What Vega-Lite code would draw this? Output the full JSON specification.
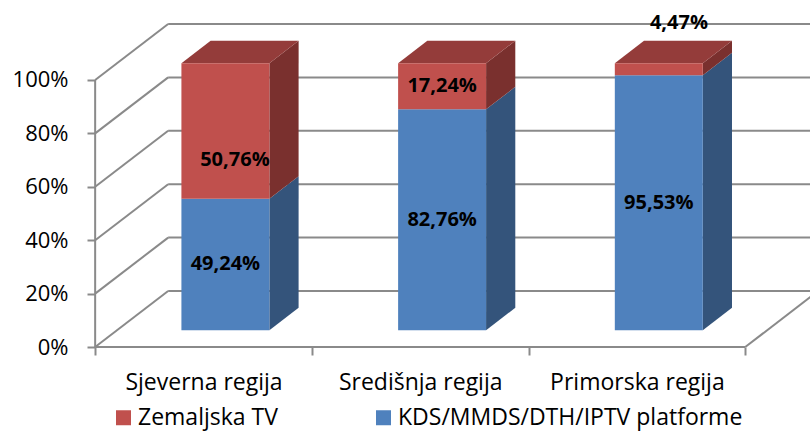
{
  "$schema": "https://vega.github.io/schema/vega-lite/v6.json",
  "width": 810,
  "height": 434,
  "padding": 0,
  "autosize": {"type": "none"},
  "config": {"view": {"stroke": null}, "axis": {"grid": false}, "font": "Open Sans"},
  "datasets": {
    "bars": [
      {"region": "Sjeverna regija", "series": "KDS/MMDS/DTH/IPTV platforme", "value": 49.24},
      {"region": "Sjeverna regija", "series": "Zemaljska TV", "value": 50.76},
      {"region": "Središnja regija", "series": "KDS/MMDS/DTH/IPTV platforme", "value": 82.76},
      {"region": "Središnja regija", "series": "Zemaljska TV", "value": 17.24},
      {"region": "Primorska regija", "series": "KDS/MMDS/DTH/IPTV platforme", "value": 95.53},
      {"region": "Primorska regija", "series": "Zemaljska TV", "value": 4.47}
    ],
    "ticks": [{"t": 0}, {"t": 0.2}, {"t": 0.4}, {"t": 0.6}, {"t": 0.8}, {"t": 1}]
  },
  "encoding": {
    "x": {
      "field": "X", "type": "quantitative", "stack": null,
      "scale": {"domain": [-0.9391, 2.7988], "nice": false, "zero": false},
      "axis": {
        "title": null, "orient": "bottom", "offset": -87, "domain": false,
        "values": [-0.5, 0, 0.5, 1, 1.5, 2, 2.5],
        "labelExpr": "datum.value === 0 ? 'Sjeverna regija' : datum.value === 1 ? 'Središnja regija' : datum.value === 2 ? 'Primorska regija' : ''",
        "tickSize": 8, "tickWidth": 2, "tickColor": "#8a8a8a",
        "tickOpacity": {"condition": {"test": "datum.value % 1 === 0", "value": 0}, "value": 1},
        "labelFontSize": 23, "labelColor": "#000", "labelPadding": 16, "labelFlush": false, "labelOverlap": false
      }
    },
    "y": {
      "field": "Y", "type": "quantitative", "stack": null,
      "scale": {"domain": [-0.3258, 1.2996], "nice": false, "zero": false},
      "axis": {
        "title": null, "orient": "left", "offset": -95, "domain": false,
        "values": [0, 0.2, 0.4, 0.6, 0.8, 1], "format": ".0%",
        "tickSize": 8, "tickWidth": 2, "tickColor": "#8a8a8a",
        "labelFontSize": 22, "labelColor": "#000", "labelPadding": 19
      }
    }
  },
  "layer": [
    {
      "data": {"name": "ticks"},
      "transform": [
        {"calculate": "-0.5 + 0.3369", "as": "X"},
        {"calculate": "2.5 + 0.3369", "as": "X2"},
        {"calculate": "datum.t + 0.2097", "as": "Y"}
      ],
      "mark": {"type": "rule", "stroke": "#8a8a8a", "strokeWidth": 2},
      "encoding": {"x2": {"field": "X2"}}
    },
    {
      "data": {"name": "ticks"},
      "transform": [
        {"calculate": "-0.5", "as": "X"},
        {"calculate": "-0.5 + 0.3369", "as": "X2"},
        {"calculate": "datum.t", "as": "Y"},
        {"calculate": "datum.t + 0.2097", "as": "Y2"}
      ],
      "mark": {"type": "rule", "stroke": "#8a8a8a", "strokeWidth": 2},
      "encoding": {"x2": {"field": "X2"}, "y2": {"field": "Y2"}}
    },
    {
      "data": {"name": "ticks"},
      "transform": [
        {"filter": "datum.t === 0"},
        {"calculate": "2.5", "as": "X"},
        {"calculate": "2.5 + 0.3369", "as": "X2"},
        {"calculate": "0", "as": "Y"},
        {"calculate": "0.2097", "as": "Y2"}
      ],
      "mark": {"type": "rule", "stroke": "#8a8a8a", "strokeWidth": 2},
      "encoding": {"x2": {"field": "X2"}, "y2": {"field": "Y2"}}
    },
    {
      "data": {"name": "ticks"},
      "transform": [
        {"filter": "datum.t === 0"},
        {"calculate": "-0.5", "as": "X"},
        {"calculate": "2.5", "as": "X2"},
        {"calculate": "0", "as": "Y"}
      ],
      "mark": {"type": "rule", "stroke": "#8a8a8a", "strokeWidth": 2},
      "encoding": {"x2": {"field": "X2"}}
    },
    {
      "data": {"name": "ticks"},
      "transform": [
        {"filter": "datum.t === 0"},
        {"calculate": "-0.5", "as": "X"},
        {"calculate": "0", "as": "Y"},
        {"calculate": "1", "as": "Y2"}
      ],
      "mark": {"type": "rule", "stroke": "#8a8a8a", "strokeWidth": 2},
      "encoding": {"y2": {"field": "Y2"}}
    },
    {
      "data": {"name": "bars"},
      "transform": [
        {"calculate": "indexof(['Sjeverna regija','Središnja regija','Primorska regija'], datum.region)", "as": "i"},
        {"calculate": "datum.value / 100", "as": "f"},
        {"stack": "f", "groupby": ["region"], "sort": [{"field": "series", "order": "ascending"}], "as": ["s0", "s1"]},
        {"calculate": "[0.3, 0.7]", "as": "zs"},
        {"flatten": ["zs"], "as": ["z"]},
        {"calculate": "datum.i + 0.203 + 0.3369 * datum.z", "as": "X"},
        {"calculate": "datum.s0 + 0.2097 * datum.z", "as": "Y"},
        {"calculate": "datum.s1 + 0.2097 * datum.z", "as": "Y2"}
      ],
      "mark": {"type": "area", "orient": "vertical"},
      "encoding": {
        "y2": {"field": "Y2"},
        "detail": [{"field": "region", "type": "nominal"}, {"field": "series", "type": "nominal"}],
        "color": {"condition": {"test": "datum.series === 'Zemaljska TV'", "value": "#7A302E"}, "value": "#34547B"}
      }
    },
    {
      "data": {"name": "bars"},
      "transform": [
        {"calculate": "indexof(['Sjeverna regija','Središnja regija','Primorska regija'], datum.region)", "as": "i"},
        {"calculate": "datum.value / 100", "as": "f"},
        {"stack": "f", "groupby": ["region"], "sort": [{"field": "series", "order": "ascending"}], "as": ["s0", "s1"]},
        {"filter": "datum.s1 > 0.999"},
        {"calculate": "[0.3, 0.7]", "as": "zs"},
        {"flatten": ["zs"], "as": ["z"]},
        {"calculate": "datum.i - 0.203 + 0.3369 * datum.z", "as": "X"},
        {"calculate": "datum.i + 0.203 + 0.3369 * datum.z", "as": "X2"},
        {"calculate": "datum.s1 + 0.2097 * datum.z", "as": "Y"}
      ],
      "mark": {"type": "area", "orient": "horizontal", "color": "#943C3A"},
      "encoding": {
        "x2": {"field": "X2"},
        "detail": {"field": "region", "type": "nominal"}
      }
    },
    {
      "data": {"name": "bars"},
      "transform": [
        {"calculate": "indexof(['Sjeverna regija','Središnja regija','Primorska regija'], datum.region)", "as": "i"},
        {"calculate": "datum.value / 100", "as": "f"},
        {"stack": "f", "groupby": ["region"], "sort": [{"field": "series", "order": "ascending"}], "as": ["s0", "s1"]},
        {"calculate": "datum.i - 0.203 + 0.3369 * 0.3", "as": "X"},
        {"calculate": "datum.i + 0.203 + 0.3369 * 0.3", "as": "X2"},
        {"calculate": "datum.s0 + 0.2097 * 0.3", "as": "Y"},
        {"calculate": "datum.s1 + 0.2097 * 0.3", "as": "Y2"}
      ],
      "mark": {"type": "rect"},
      "encoding": {
        "x2": {"field": "X2"},
        "y2": {"field": "Y2"},
        "color": {
          "field": "series", "type": "nominal",
          "scale": {"domain": ["Zemaljska TV", "KDS/MMDS/DTH/IPTV platforme"], "range": ["#C0504D", "#4F81BD"]},
          "legend": {
            "orient": "none", "legendX": 112, "legendY": 406, "direction": "horizontal",
            "title": null, "symbolType": "square", "symbolSize": 225, "symbolStrokeWidth": 0,
            "labelFontSize": 23, "labelColor": "#000", "labelOffset": 3, "labelLimit": 0,
            "columnPadding": 94, "padding": 0
          }
        }
      }
    },
    {
      "data": {"name": "bars"},
      "transform": [
        {"calculate": "indexof(['Sjeverna regija','Središnja regija','Primorska regija'], datum.region)", "as": "i"},
        {"calculate": "datum.value / 100", "as": "f"},
        {"stack": "f", "groupby": ["region"], "sort": [{"field": "series", "order": "ascending"}], "as": ["s0", "s1"]},
        {"calculate": "replace(format(datum.value, '.2f'), '.', ',') + '%'", "as": "label"},
        {"calculate": "datum.value < 10 ? datum.i + 0.194 : (datum.region === 'Sjeverna regija' && datum.series === 'Zemaljska TV') ? datum.i + 0.145 : datum.i + 0.1011", "as": "X"},
        {"calculate": "datum.value < 10 ? datum.s1 + 0.2135 : (datum.region === 'Sjeverna regija' && datum.series === 'Zemaljska TV') ? 0.700 : (datum.s0 + datum.s1) / 2 + 0.0629", "as": "Y"}
      ],
      "mark": {"type": "text", "fontSize": 20, "fontWeight": "bold", "color": "#000", "baseline": "middle", "align": "center"},
      "encoding": {"text": {"field": "label"}}
    }
  ]
}
